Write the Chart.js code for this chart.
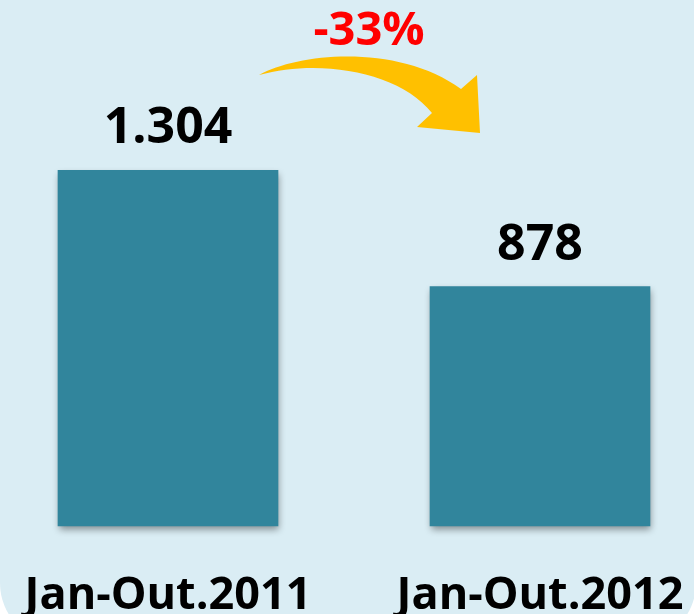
<!DOCTYPE html>
<html>
<head>
<meta charset="utf-8">
<title>Jan-Out 2011 x 2012</title>
<script src="https://cdn.jsdelivr.net/npm/chart.js@4.4.1/dist/chart.umd.min.js"></script>
<style>
    html, body { margin: 0; padding: 0; background: #ffffff; }
    #wrap { width: 694px; height: 614px; }
</style>
</head>
<body>
<div id="wrap"><canvas id="vendasChart" width="694" height="614"></canvas></div>
<script>
// dados
var periodos = ['Jan-Out.2011', 'Jan-Out.2012'];
var valores = [1304, 878];

var corFundo = '#daedf4';
var corBarra = '#31859c';

// formato pt-BR: 1304 -> 1.304
function formata(n) {
    return String(n).replace(/\B(?=(\d{3})+(?!\d))/g, '.');
}

// fundo arredondado (cantos de baixo cortados)
var fundoPlugin = {
    id: 'fundo',
    beforeDraw: function(chart) {
        var ctx = chart.ctx;
        ctx.save();
        ctx.fillStyle = '#ffffff';
        ctx.fillRect(0, 0, chart.width, chart.height);
        ctx.fillStyle = corFundo;
        ctx.beginPath();
        ctx.roundRect(0, -100, 696, 743, 60);
        ctx.fill();
        ctx.restore();
    }
};

// sombra das barras
var sombraPlugin = {
    id: 'sombra',
    beforeDatasetsDraw: function(chart) {
        var ctx = chart.ctx;
        ctx.save();
        ctx.shadowColor = 'rgba(0, 0, 0, 0.4)';
        ctx.shadowBlur = 7;
        ctx.shadowOffsetX = 1;
        ctx.shadowOffsetY = 4;
    },
    afterDatasetsDraw: function(chart) {
        chart.ctx.restore();
    }
};

// rotulos de valor acima das barras
var rotuloPlugin = {
    id: 'rotulos',
    afterDatasetsDraw: function(chart) {
        var ctx = chart.ctx;
        var meta = chart.getDatasetMeta(0);
        ctx.save();
        ctx.fillStyle = '#000000';
        ctx.font = 'bold 50px "Open Sans"';
        ctx.textAlign = 'center';
        ctx.textBaseline = 'alphabetic';
        meta.data.forEach(function(bar, i) {
            ctx.fillText(formata(valores[i]), bar.x, bar.y - 27);
        });
        ctx.restore();
    }
};

// seta amarela e variacao percentual
var setaPlugin = {
    id: 'seta',
    afterDraw: function(chart) {
        var ctx = chart.ctx;
        ctx.save();
        ctx.fillStyle = '#ffc000';
        ctx.beginPath();
        ctx.moveTo(259, 75);
        ctx.bezierCurveTo(300, 52, 400, 44, 461, 89);
        ctx.lineTo(477, 75);
        ctx.lineTo(480, 133);
        ctx.lineTo(417, 127);
        ctx.lineTo(432, 113);
        ctx.bezierCurveTo(400, 72, 320, 58, 259, 75);
        ctx.closePath();
        ctx.fill();

        var variacao = Math.round((valores[1] - valores[0]) / valores[0] * 100);
        ctx.fillStyle = '#ff0000';
        ctx.font = 'bold 47px "Open Sans"';
        ctx.textAlign = 'center';
        ctx.textBaseline = 'alphabetic';
        ctx.fillText(variacao + '%', 369, 45);
        ctx.restore();
    }
};

var ctx = document.getElementById('vendasChart').getContext('2d');
new Chart(ctx, {
    type: 'bar',
    data: {
        labels: periodos,
        datasets: [{
            data: valores,
            backgroundColor: corBarra,
            borderWidth: 0,
            barThickness: 220,
            clip: false
        }]
    },
    options: {
        responsive: false,
        animation: false,
        events: [],
        layout: {
            padding: { top: 35, left: 168, right: 154, bottom: 0 }
        },
        plugins: {
            legend: { display: false },
            tooltip: { enabled: false }
        },
        scales: {
            x: {
                offset: false,
                grid: { display: false, drawTicks: false },
                border: { display: false },
                ticks: {
                    color: '#000000',
                    padding: 48,
                    maxRotation: 0,
                    autoSkip: false,
                    font: { family: 'Open Sans', size: 45, weight: 'bold', lineHeight: 1 }
                },
                afterFit: function(scale) {
                    scale.height = 88;
                    scale.paddingLeft = 0;
                    scale.paddingRight = 0;
                }
            },
            y: {
                display: false,
                min: 0,
                max: 1800
            }
        }
    },
    plugins: [fundoPlugin, sombraPlugin, rotuloPlugin, setaPlugin]
});
</script>
</body>
</html>
